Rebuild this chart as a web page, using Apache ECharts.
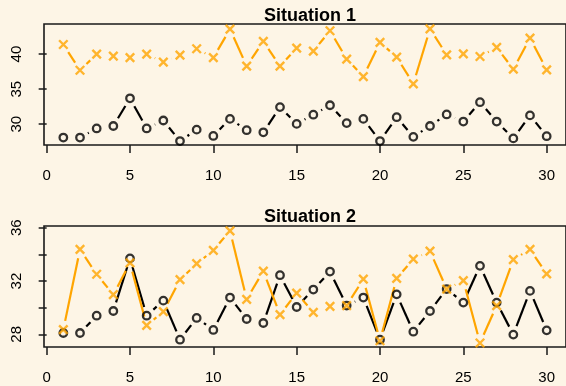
<!DOCTYPE html>
<html>
<head>
<meta charset="utf-8">
<script src="https://cdn.jsdelivr.net/npm/echarts@6/dist/echarts.min.js"></script>
<style>
  html, body { margin: 0; padding: 0; background: #FDF5E6; }
  #chart { width: 566px; height: 386px; }
</style>
</head>
<body>
<div id="chart"></div>
<script>
// Observation index (x positions)
const xIndex = [1,2,3,4,5,6,7,8,9,10,11,12,13,14,15,16,17,18,19,20,21,22,23,24,25,26,27,28,29,30];

// Baseline series (black circles), shared by both panels
const baseline = [28.1, 28.1, 29.4, 29.75, 33.7, 29.4, 30.53, 27.6, 29.23, 28.33,
                  30.76, 29.15, 28.85, 32.44, 30.05, 31.36, 32.71, 30.16, 30.76, 27.6,
                  31.0, 28.2, 29.75, 31.4, 30.38, 33.14, 30.38, 27.98, 31.26, 28.3];

// Situation 1 comparison series (orange crosses)
const situation1 = [41.37, 37.7, 40.0, 39.7, 39.5, 40.0, 38.86, 39.86, 40.76, 39.5,
                    43.57, 38.29, 41.8, 38.29, 40.86, 40.43, 43.33, 39.29, 36.8, 41.66,
                    39.57, 35.76, 43.6, 39.9, 40.04, 39.66, 40.95, 37.86, 42.29, 37.76];

// Situation 2 comparison series (orange crosses)
const situation2 = [28.35, 34.37, 32.51, 30.98, 33.36, 28.68, 29.7, 32.1, 33.3, 34.3,
                    35.77, 30.63, 32.74, 29.48, 31.1, 29.65, 30.1, 30.16, 32.14, 27.52,
                    32.2, 33.64, 34.24, 31.4, 32.03, 27.35, 30.16, 33.61, 34.37, 32.54];

// Axis ticks and labels
const xTicks = [0, 5, 10, 15, 20, 25, 30];
const y1Ticks = [30, 35, 40];
const y1Labels = [30, 35, 40];
const y2Ticks = [28, 30, 32, 34, 36];
const y2Labels = [28, 32, 36];

const titles = ['Situation 1', 'Situation 2'];

const BG = '#FDF5E6';
const INK = '#000000';
const FRAME = '#1a1a1a';
const ORANGE = '#FFA500';
const FONT = '"Liberation Sans", Arial, Helvetica, sans-serif';

// Segment data: each item joins point i to point i+1
function segments(ys) {
  const out = [];
  for (let i = 0; i < ys.length - 1; i++) {
    out.push([xIndex[i], ys[i], xIndex[i + 1], ys[i + 1]]);
  }
  return out;
}
function points(ys) {
  return ys.map((y, i) => [xIndex[i], y]);
}

// Lines drawn between points, stopping short of each marker
const GAP = 9;
function gappedSegment(color) {
  return function (params, api) {
    const a = api.coord([api.value(0), api.value(1)]);
    const b = api.coord([api.value(2), api.value(3)]);
    const dx = b[0] - a[0], dy = b[1] - a[1];
    const len = Math.sqrt(dx * dx + dy * dy);
    if (len <= 2 * GAP) return null;
    const ux = dx / len, uy = dy / len;
    return {
      type: 'line',
      shape: { x1: a[0] + ux * GAP, y1: a[1] + uy * GAP, x2: b[0] - ux * GAP, y2: b[1] - uy * GAP },
      style: { stroke: color, lineWidth: 2.2, lineCap: 'butt' }
    };
  };
}

const crossPath = 'path://M0,0L10,10M10,0L0,10';

function panelSeries(idx, other) {
  return [
    {
      type: 'custom', xAxisIndex: idx, yAxisIndex: idx,
      renderItem: gappedSegment(INK), data: segments(baseline),
      encode: { x: [0, 2], y: [1, 3] }, silent: true, clip: false
    },
    {
      type: 'scatter', xAxisIndex: idx, yAxisIndex: idx,
      data: points(baseline), symbol: 'circle', symbolSize: 7.5,
      itemStyle: { color: 'rgba(0,0,0,0)', borderColor: INK, borderWidth: 2.3 },
      silent: true
    },
    {
      type: 'custom', xAxisIndex: idx, yAxisIndex: idx,
      renderItem: gappedSegment(ORANGE), data: segments(other),
      encode: { x: [0, 2], y: [1, 3] }, silent: true, clip: false
    },
    {
      type: 'scatter', xAxisIndex: idx, yAxisIndex: idx,
      data: points(other), symbol: crossPath, symbolSize: 8.5,
      itemStyle: { color: 'rgba(0,0,0,0)', borderColor: ORANGE, borderWidth: 2.4 },
      silent: true
    }
  ];
}

function xAxisFor(idx) {
  return {
    type: 'value', gridIndex: idx, min: -0.16, max: 31.16,
    axisLine: { show: false },
    axisTick: { show: true, inside: false, length: 8, customValues: xTicks,
                lineStyle: { color: FRAME, width: 1.5 } },
    axisLabel: { customValues: xTicks, margin: 23, color: '#000', fontSize: 15, fontFamily: FONT },
    splitLine: { show: false }
  };
}

function yAxisFor(idx, min, max, ticks, labels) {
  return {
    type: 'value', gridIndex: idx, min: min, max: max,
    axisLine: { show: false },
    axisTick: { show: true, inside: false, length: 8, customValues: ticks,
                lineStyle: { color: FRAME, width: 1.5 } },
    axisLabel: { customValues: labels, rotate: 90, margin: 20, color: '#000',
                 fontSize: 15, fontFamily: FONT },
    splitLine: { show: false }
  };
}

const chart = echarts.init(document.getElementById('chart'), null, { renderer: 'canvas' });

chart.setOption({
  backgroundColor: BG,
  animation: false,
  title: [
    { text: titles[0], left: 305, top: 2, textAlign: 'center',
      textStyle: { fontSize: 18, fontWeight: 'bold', color: '#000', fontFamily: FONT } },
    { text: titles[1], left: 305, top: 203, textAlign: 'center',
      textStyle: { fontSize: 18, fontWeight: 'bold', color: '#000', fontFamily: FONT } }
  ],
  grid: [
    { left: 44, top: 24, width: 523, height: 121, show: true,
      borderColor: FRAME, borderWidth: 1.6, backgroundColor: 'transparent' },
    { left: 44, top: 226, width: 523, height: 121, show: true,
      borderColor: FRAME, borderWidth: 1.6, backgroundColor: 'transparent' }
  ],
  xAxis: [xAxisFor(0), xAxisFor(1)],
  yAxis: [
    yAxisFor(0, 27.04, 44.29, y1Ticks, y1Labels),
    yAxisFor(1, 27.05, 36.13, y2Ticks, y2Labels)
  ],
  series: [].concat(panelSeries(0, situation1), panelSeries(1, situation2))
});
</script>
</body>
</html>
